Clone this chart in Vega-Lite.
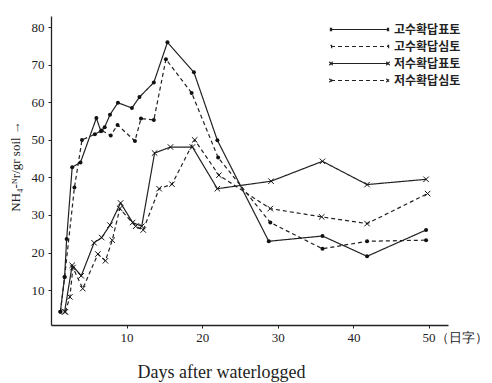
{
  "$schema": "https://vega.github.io/schema/vega-lite/v6.json",
  "width": 397,
  "height": 309,
  "autosize": {"type": "none"},
  "padding": {"left": 51, "top": 16, "right": 44, "bottom": 58},
  "background": "white",
  "config": {
    "view": {"stroke": null},
    "axis": {"domainColor": "#222", "tickColor": "#222", "labelColor": "#222", "titleColor": "#222", "grid": false, "labelFont": "Liberation Serif", "titleFont": "Liberation Serif", "domainWidth": 1.3, "tickSize": 3}
  },
  "data": {"values": [
    {"series": "고수확답표토", "day": 1.24, "val": 4.2},
    {"series": "고수확답표토", "day": 1.8, "val": 13.5},
    {"series": "고수확답표토", "day": 2.07, "val": 23.6},
    {"series": "고수확답표토", "day": 2.8, "val": 42.7},
    {"series": "고수확답표토", "day": 3.9, "val": 44},
    {"series": "고수확답표토", "day": 6.0, "val": 55.8},
    {"series": "고수확답표토", "day": 6.6, "val": 52.3},
    {"series": "고수확답표토", "day": 7.1, "val": 53.4},
    {"series": "고수확답표토", "day": 7.8, "val": 56.7},
    {"series": "고수확답표토", "day": 8.85, "val": 59.9},
    {"series": "고수확답표토", "day": 10.7, "val": 58.5},
    {"series": "고수확답표토", "day": 11.7, "val": 61.4},
    {"series": "고수확답표토", "day": 13.6, "val": 65.3},
    {"series": "고수확답표토", "day": 15.4, "val": 76},
    {"series": "고수확답표토", "day": 18.9, "val": 68},
    {"series": "고수확답표토", "day": 22, "val": 49.9},
    {"series": "고수확답표토", "day": 28.8, "val": 23},
    {"series": "고수확답표토", "day": 35.9, "val": 24.4},
    {"series": "고수확답표토", "day": 41.8, "val": 19},
    {"series": "고수확답표토", "day": 49.6, "val": 26},
    {"series": "고수확답심토", "day": 1.24, "val": 4.2},
    {"series": "고수확답심토", "day": 1.8, "val": 13.5},
    {"series": "고수확답심토", "day": 3.1, "val": 37.3},
    {"series": "고수확답심토", "day": 4.1, "val": 50},
    {"series": "고수확답심토", "day": 5.8, "val": 51.5},
    {"series": "고수확답심토", "day": 6.7, "val": 52.5},
    {"series": "고수확답심토", "day": 7.9, "val": 51.2},
    {"series": "고수확답심토", "day": 8.8, "val": 54},
    {"series": "고수확답심토", "day": 11.1, "val": 49.7},
    {"series": "고수확답심토", "day": 11.9, "val": 55.7},
    {"series": "고수확답심토", "day": 13.6, "val": 55.3},
    {"series": "고수확답심토", "day": 15.2, "val": 71.5},
    {"series": "고수확답심토", "day": 18.6, "val": 62.5},
    {"series": "고수확답심토", "day": 22.1, "val": 45.3},
    {"series": "고수확답심토", "day": 29, "val": 28},
    {"series": "고수확답심토", "day": 35.9, "val": 21},
    {"series": "고수확답심토", "day": 41.8, "val": 23},
    {"series": "고수확답심토", "day": 49.6, "val": 23.3},
    {"series": "저수확답표토", "day": 1.8, "val": 4.2},
    {"series": "저수확답표토", "day": 2.8, "val": 16.6},
    {"series": "저수확답표토", "day": 4.0, "val": 13.8},
    {"series": "저수확답표토", "day": 5.7, "val": 22.6},
    {"series": "저수확답표토", "day": 6.7, "val": 24},
    {"series": "저수확답표토", "day": 7.8, "val": 27.3},
    {"series": "저수확답표토", "day": 9.2, "val": 33.2},
    {"series": "저수확답표토", "day": 10.8, "val": 28},
    {"series": "저수확답표토", "day": 12.0, "val": 27},
    {"series": "저수확답표토", "day": 13.7, "val": 46.5},
    {"series": "저수확답표토", "day": 15.8, "val": 48.1},
    {"series": "저수확답표토", "day": 18.7, "val": 48.1},
    {"series": "저수확답표토", "day": 22, "val": 37},
    {"series": "저수확답표토", "day": 29.1, "val": 39},
    {"series": "저수확답표토", "day": 35.9, "val": 44.3},
    {"series": "저수확답표토", "day": 41.8, "val": 38.1},
    {"series": "저수확답표토", "day": 49.6, "val": 39.5},
    {"series": "저수확답심토", "day": 1.9, "val": 4.2},
    {"series": "저수확답심토", "day": 2.5, "val": 8.2},
    {"series": "저수확답심토", "day": 2.9, "val": 16},
    {"series": "저수확답심토", "day": 4.2, "val": 10.4},
    {"series": "저수확답심토", "day": 6.2, "val": 19.6},
    {"series": "저수확답심토", "day": 7.2, "val": 17.8},
    {"series": "저수확답심토", "day": 8.1, "val": 23.3},
    {"series": "저수확답심토", "day": 9.1, "val": 31.7},
    {"series": "저수확답심토", "day": 11.2, "val": 27},
    {"series": "저수확답심토", "day": 12.2, "val": 26},
    {"series": "저수확답심토", "day": 14.3, "val": 37},
    {"series": "저수확답심토", "day": 16, "val": 38.2},
    {"series": "저수확답심토", "day": 19, "val": 50},
    {"series": "저수확답심토", "day": 22.2, "val": 40.6},
    {"series": "저수확답심토", "day": 29, "val": 31.7},
    {"series": "저수확답심토", "day": 35.8, "val": 29.5},
    {"series": "저수확답심토", "day": 41.8, "val": 27.7},
    {"series": "저수확답심토", "day": 49.8, "val": 35.7}
  ]},
  "encoding": {
    "x": {"field": "day", "type": "quantitative", "scale": {"domain": [0, 52.5], "nice": false, "zero": false},
      "axis": {"values": [10, 20, 30, 40, 50], "labelFontSize": 13, "labelPadding": 3,
        "labelExpr": "datum.value == 50 ? '50（日字）' : datum.label",
        "labelAlign": {"condition": {"test": "datum.value == 50", "value": "left"}, "value": "center"},
        "labelOffset": {"condition": {"test": "datum.value == 50", "value": -7}, "value": 0},
        "title": "Days after waterlogged", "titleFontSize": 18, "titleFontWeight": "normal", "titlePadding": 19, "titleX": 170}},
    "y": {"field": "val", "type": "quantitative", "scale": {"domain": [0.7, 83], "nice": false, "zero": false},
      "axis": {"values": [10, 20, 30, 40, 50, 60, 70, 80], "labelFontSize": 13, "labelPadding": 4,
        "title": "NH₄-ᴺr/gr soil →", "titleFontSize": 13, "titleFontWeight": "normal", "titleX": -36, "titleY": 150, "titleAlign": "center", "titleBaseline": "middle"}}
  },
  "layer": [
    {
      "mark": {"type": "line", "color": "#222", "strokeWidth": 1.2},
      "encoding": {
        "detail": {"field": "series"},
        "strokeDash": {"field": "series", "type": "nominal",
          "scale": {"domain": ["고수확답표토", "고수확답심토", "저수확답표토", "저수확답심토"], "range": [[1, 0], [4, 3], [1, 0], [4, 3]]},
          "legend": {"orient": "none", "legendX": 302, "legendY": 7, "title": null,
            "symbolType": "M-5,0L5,0", "symbolSize": 130, "symbolStrokeWidth": 1.2, "symbolStrokeColor": "#222", "symbolFillColor": "transparent",
            "labelFont": "Noto Sans CJK KR", "labelFontSize": 12, "labelFontWeight": "bold", "labelColor": "#222", "labelOffset": 28, "rowPadding": 4,
            "encode": {"symbols": {"update": {"shape": {"signal": "indexof(datum.value, '고') == 0 ? 'M-5,0L5,0M-5.1,-0.2L-4.9,-0.2L-4.9,0.2L-5.1,0.2ZM4.9,-0.2L5.1,-0.2L5.1,0.2L4.9,0.2Z' : 'M-5,0L5,0M-5.3,-0.3L-4.7,0.3M-5.3,0.3L-4.7,-0.3M4.7,-0.3L5.3,0.3M4.7,0.3L5.3,-0.3'"}}}}}}
      }
    },
    {
      "transform": [{"filter": "indexof(datum.series, '고') == 0"}],
      "mark": {"type": "point", "shape": "circle", "filled": true, "color": "#111", "size": 16, "opacity": 1}
    },
    {
      "transform": [{"filter": "indexof(datum.series, '저') == 0"}],
      "mark": {"type": "point", "shape": "M-1,-1L1,1M-1,1L1,-1", "filled": false, "color": "#111", "strokeWidth": 1, "size": 30, "opacity": 1}
    }
  ]
}
